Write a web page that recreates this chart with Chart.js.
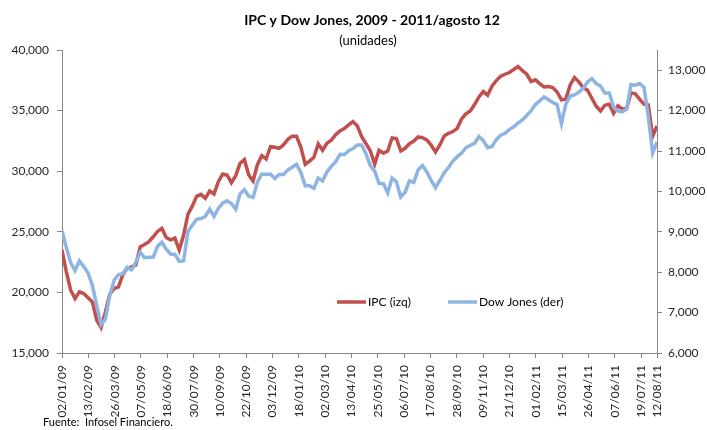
<!DOCTYPE html>
<html>
<head>
<meta charset="utf-8">
<script src="https://cdn.jsdelivr.net/npm/chart.js@4.4.0/dist/chart.umd.min.js"></script>
<style>
  html, body { margin: 0; padding: 0; background: #fff; }
</style>
</head>
<body>
<canvas id="my-chart" width="707" height="430"></canvas>
<script>
// x labels every 30 trading days, the last one is the end of the series
const xTickLabels = [
  "02/01/09", "13/02/09", "26/03/09", "07/05/09", "18/06/09", "30/07/09",
  "10/09/09", "22/10/09", "03/12/09", "18/01/10", "02/03/10", "13/04/10",
  "25/05/10", "06/07/10", "17/08/10", "28/09/10", "09/11/10", "21/12/10",
  "01/02/11", "15/03/11", "26/04/11", "07/06/11", "19/07/11", "12/08/11"
];
const lastDay = 678;

// roughly weekly readings of the two series
const ipcValues = [
  23490, 21700, 20180, 19490, 20040, 19900, 19550, 19210, 17700, 17090,
  18390, 19850, 20320, 20460, 21450, 22000, 22110, 22270, 23760, 23960,
  24180, 24590, 25030, 25280, 24530, 24340, 24480, 23490, 24730, 26460,
  27120, 27920, 28090, 27760, 28360, 28120, 29140, 29770, 29690, 29050,
  29630, 30650, 30950, 29690, 29190, 30540, 31280, 31010, 32030, 31970,
  31890, 32170, 32630, 32880, 32880, 31970, 30570, 30840, 31150, 32250,
  31730, 32300, 32550, 33020, 33320, 33520, 33820, 34090, 33740, 32850,
  32270, 31670, 30590, 31720, 31480, 31670, 32740, 32690, 31670, 31890,
  32270, 32490, 32830, 32770, 32580, 32160, 31590, 32160, 32910, 33130,
  33270, 33540, 34310, 34730, 34970, 35500, 36130, 36570, 36270, 37010,
  37480, 37840, 38000, 38140, 38390, 38640, 38310, 38000, 37400, 37540,
  37230, 36960, 36990, 36900, 36540, 35880, 35940, 37120, 37730, 37370,
  36900, 36680, 36020, 35360, 34970, 35440, 35530, 34780, 35390, 35140,
  35170, 36460, 36380, 35940, 35530, 35470, 32880, 33730
];
const djValues = [
  9030, 8610, 8230, 8040, 8280, 8140, 7980, 7670, 7170, 6700,
  6840, 7420, 7800, 7940, 7960, 8120, 8060, 8240, 8490, 8360,
  8370, 8370, 8640, 8740, 8570, 8450, 8440, 8270, 8280, 9010,
  9160, 9310, 9330, 9380, 9560, 9380, 9580, 9710, 9770, 9700,
  9560, 9940, 10040, 9880, 9850, 10230, 10430, 10420, 10430, 10320,
  10420, 10420, 10530, 10600, 10670, 10470, 10140, 10140, 10080, 10330,
  10260, 10480, 10620, 10730, 10920, 10910, 11010, 11060, 11150, 11150,
  10930, 10640, 10500, 10200, 10190, 9960, 10330, 10240, 9860, 9980,
  10260, 10220, 10530, 10640, 10480, 10270, 10090, 10270, 10460, 10590,
  10750, 10860, 10950, 11080, 11140, 11190, 11360, 11260, 11080, 11110,
  11280, 11390, 11440, 11530, 11600, 11690, 11770, 11880, 11990, 12150,
  12240, 12340, 12270, 12200, 12150, 11680, 12160, 12360, 12390, 12460,
  12550, 12710, 12790, 12670, 12610, 12430, 12440, 12090, 11990, 11970,
  12040, 12640, 12630, 12670, 12580, 11850, 10950, 11220
];

const leftTicks = [15000, 20000, 25000, 30000, 35000, 40000];
const rightTicks = [6000, 7000, 8000, 9000, 10000, 11000, 12000, 13000];

const fontName = "Lato, 'Open Sans', sans-serif";
const textColor = "#262626";
const axisColor = "#868686";
const step = lastDay / (ipcValues.length - 1);
const tickDays = xTickLabels.map((l, i) => (i < xTickLabels.length - 1 ? i * 30 : lastDay));

const fmt = (v) => v.toLocaleString("en-US");

const extras = {
  id: "extras",
  afterDraw(chart) {
    const c = chart.ctx;
    c.save();
    c.fillStyle = "#000";
    c.textAlign = "center";
    c.textBaseline = "middle";
    c.font = "bold 14px " + fontName;
    c.fillText("IPC y Dow Jones, 2009 - 2011/agosto 12", 372, 20);
    c.font = "13px " + fontName;
    c.fillText("(unidades)", 368, 41);

    // rotated date labels under the ticks
    const xs = chart.scales.x;
    c.font = "12px " + fontName;
    c.fillStyle = textColor;
    c.textAlign = "right";
    tickDays.forEach((d, i) => {
      c.save();
      c.translate(xs.getPixelForValue(d), xs.top + 12);
      c.rotate(-Math.PI / 2);
      c.fillText(xTickLabels[i], 0, 0);
      c.restore();
    });

    // legend
    c.textAlign = "left";
    c.font = "12px " + fontName;
    const items = [
      { x: 337, ds: chart.data.datasets[0] },
      { x: 448, ds: chart.data.datasets[1] },
    ];
    items.forEach((it) => {
      c.strokeStyle = it.ds.borderColor;
      c.lineWidth = 3.5;
      c.beginPath();
      c.moveTo(it.x, 302);
      c.lineTo(it.x + 29, 302);
      c.stroke();
      c.fillStyle = "#000";
      c.fillText(it.ds.label, it.x + 31, 302);
    });

    c.font = "11px " + fontName;
    c.fillText("Fuente:  Infosel Financiero.", 43, 422);
    c.restore();
  },
};

const ctx = document.getElementById("my-chart").getContext("2d");
const chart = new Chart(ctx, {
  type: "line",
  data: {
    datasets: [
      {
        label: "IPC (izq)",
        data: ipcValues.map((v, i) => ({ x: i * step, y: v })),
        borderColor: "#C0504D",
        borderWidth: 3.5,
        pointRadius: 0,
        yAxisID: "y",
        order: 1,
      },
      {
        label: "Dow Jones (der)",
        data: djValues.map((v, i) => ({ x: i * step, y: v })),
        borderColor: "#8EB4E3",
        borderWidth: 3.5,
        pointRadius: 0,
        yAxisID: "y1",
        order: 0,
      },
    ],
  },
  options: {
    responsive: false,
    animation: false,
    layout: { padding: { top: 50 } },
    plugins: { legend: { display: false }, tooltip: { enabled: false } },
    scales: {
      x: {
        type: "linear",
        min: 0,
        max: lastDay,
        grid: { drawOnChartArea: false, tickLength: 5, color: axisColor },
        border: { color: axisColor },
        ticks: { display: false },
        afterBuildTicks: (s) => { s.ticks = tickDays.map((d) => ({ value: d })); },
        afterFit: (s) => { s.height = 77; },
      },
      y: {
        position: "left",
        min: 15000,
        max: 40000,
        grid: { drawOnChartArea: false, tickLength: 5, color: axisColor },
        border: { color: axisColor },
        ticks: { padding: 8, color: textColor, font: { family: fontName, size: 12 }, callback: fmt },
        afterBuildTicks: (s) => { s.ticks = leftTicks.map((v) => ({ value: v })); },
        afterFit: (s) => { s.width = 62; },
      },
      y1: {
        position: "right",
        min: 6000,
        max: 13500,
        grid: { drawOnChartArea: false, tickLength: 5, color: axisColor },
        border: { color: axisColor },
        ticks: { padding: 6, color: textColor, font: { family: fontName, size: 12 }, callback: fmt },
        afterBuildTicks: (s) => { s.ticks = rightTicks.map((v) => ({ value: v })); },
        afterFit: (s) => { s.width = 50; },
      },
    },
  },
  plugins: [extras],
});
</script>
</body>
</html>
